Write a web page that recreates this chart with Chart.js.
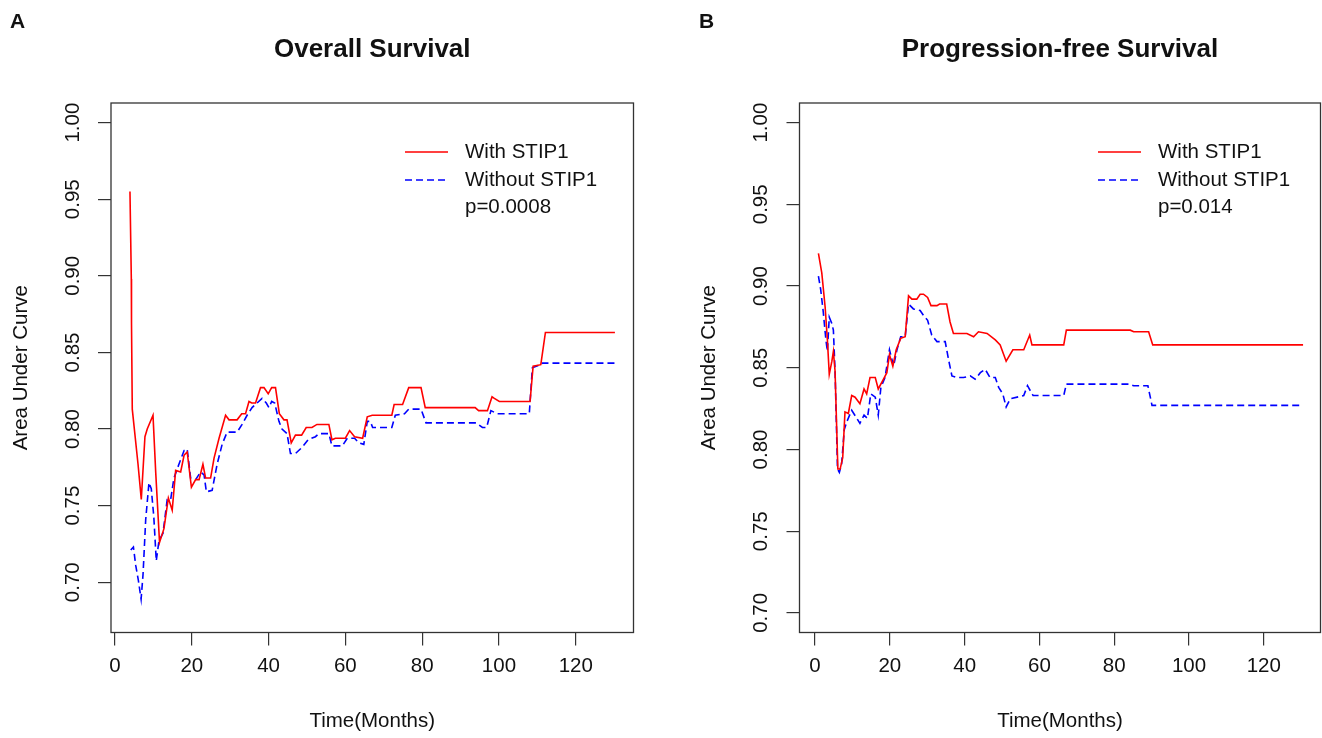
<!DOCTYPE html>
<html>
<head>
<meta charset="utf-8">
<title>AUC with / without STIP1</title>
<script src="https://cdn.jsdelivr.net/npm/chart.js@4.4.1/dist/chart.umd.min.js"></script>
<style>
  body { margin: 0; background: #fff; }
  .panel { position: absolute; top: 0; width: 661px; height: 738px; }
  #panelA { left: 0; }
  #panelB { left: 661px; }
</style>
</head>
<body>
<div class="panel" id="panelA"><canvas id="chartA" width="661" height="738"></canvas></div>
<div class="panel" id="panelB"><canvas id="chartB" width="661" height="738"></canvas></div>
<script>
// Tick values (same for both panels)
const xTicks = [0, 20, 40, 60, 80, 100, 120];
const yTicks = [0.70, 0.75, 0.80, 0.85, 0.90, 0.95, 1.00];

// Overall survival - with STIP1 (red, solid)
const osWithX = [3.9, 4.25, 4.3, 4.5, 6.0, 6.85, 7.8, 8.4, 9.9, 10.6, 11.6, 12.75, 13.9, 14.9, 15.8, 17.1, 18.0, 18.8, 19.9, 21.0,
  21.9, 22.9, 23.6, 24.9, 25.8, 27.1, 28.8, 29.7, 31.8, 33.0, 34.0, 34.9, 35.6, 36.6, 37.9, 38.8, 39.9, 40.8, 41.8, 42.8,
  44.0, 44.8, 45.9, 47.0, 48.6, 49.8, 51.3, 52.6, 55.7, 56.5, 57.4, 60.0, 61.1, 62.4, 64.5, 65.7, 67.0, 68.0, 72.1, 72.7,
  74.9, 76.5, 79.7, 80.8, 93.8, 94.7, 97.0, 98.2, 98.8, 100.1, 108.1, 108.9, 110.9, 112.1, 130.2];
const osWithY = [0.955, 0.898, 0.869, 0.813, 0.777, 0.754, 0.795, 0.800, 0.809, 0.772, 0.726, 0.735, 0.755, 0.747, 0.773, 0.772, 0.783, 0.785, 0.762, 0.767,
  0.767, 0.777, 0.768, 0.768, 0.781, 0.794, 0.809, 0.806, 0.806, 0.810, 0.810, 0.818, 0.817, 0.817, 0.827, 0.827, 0.823, 0.827, 0.827, 0.810,
  0.806, 0.806, 0.791, 0.796, 0.796, 0.801, 0.801, 0.803, 0.803, 0.793, 0.794, 0.794, 0.799, 0.795, 0.794, 0.808, 0.809, 0.809, 0.809, 0.816,
  0.816, 0.827, 0.827, 0.814, 0.814, 0.812, 0.812, 0.821, 0.820, 0.818, 0.818, 0.841, 0.842, 0.863, 0.863];

// Overall survival - without STIP1 (blue, dashed)
const osWithoutX = [4.1, 4.8, 5.4, 6.1, 6.8, 7.3, 8.0, 8.85, 9.45, 10.1, 10.75, 11.45, 12.5, 13.6, 14.5, 15.35, 16.65, 18.0, 18.8, 19.7,
  21.0, 22.3, 23.2, 23.8, 25.3, 26.6, 27.9, 29.2, 30.5, 31.8, 33.1, 34.4, 35.7, 37.0, 38.3, 39.4, 40.1, 40.8, 41.6, 42.7,
  43.5, 44.8, 45.7, 47.0, 48.7, 50.3, 52.2, 53.1, 55.7, 56.5, 59.2, 60.5, 62.4, 63.5, 64.8, 65.7, 66.5, 67.1, 72.1, 73.0,
  75.4, 76.5, 79.7, 81.0, 94.0, 95.7, 96.8, 97.9, 99.6, 107.9, 108.7, 110.9, 111.3, 130.2];
const osWithoutY = [0.721, 0.723, 0.711, 0.701, 0.689, 0.705, 0.741, 0.765, 0.761, 0.743, 0.714, 0.727, 0.732, 0.754, 0.754, 0.768, 0.777, 0.786, 0.787, 0.768,
  0.767, 0.772, 0.770, 0.759, 0.760, 0.777, 0.790, 0.798, 0.798, 0.798, 0.803, 0.809, 0.814, 0.817, 0.820, 0.817, 0.814, 0.818, 0.817, 0.805,
  0.800, 0.797, 0.784, 0.784, 0.788, 0.793, 0.795, 0.797, 0.797, 0.789, 0.789, 0.794, 0.794, 0.791, 0.790, 0.805, 0.805, 0.801, 0.801, 0.809,
  0.810, 0.813, 0.813, 0.804, 0.804, 0.801, 0.801, 0.812, 0.810, 0.810, 0.840, 0.842, 0.843, 0.843];

// Progression-free survival - with STIP1
const pfsWithX = [0.9, 1.8, 2.7, 3.3, 3.8, 4.5, 4.9, 5.35, 5.8, 6.1, 6.7, 7.4, 8.0, 8.9, 9.8, 10.7, 12.0, 13.1, 13.8, 14.7,
  16.1, 16.9, 18.3, 19.2, 19.9, 20.8, 21.7, 22.9, 24.1, 25.0, 25.9, 27.2, 28.1, 29.0, 30.1, 31.0, 32.6, 33.3, 35.2, 36.1,
  37.0, 40.6, 42.4, 43.7, 46.0, 48.2, 49.5, 51.1, 52.9, 55.8, 57.4, 58.0, 66.5, 67.2, 84.3, 85.2, 89.2, 90.3, 130.5];
const pfsWithY = [0.920, 0.908, 0.887, 0.867, 0.846, 0.854, 0.860, 0.848, 0.812, 0.788, 0.788, 0.795, 0.823, 0.822, 0.833, 0.832, 0.828, 0.837, 0.834, 0.844,
  0.844, 0.837, 0.843, 0.847, 0.858, 0.851, 0.861, 0.868, 0.869, 0.894, 0.892, 0.892, 0.895, 0.895, 0.893, 0.888, 0.888, 0.889, 0.889, 0.878,
  0.871, 0.871, 0.869, 0.872, 0.871, 0.867, 0.864, 0.854, 0.861, 0.861, 0.870, 0.864, 0.864, 0.873, 0.873, 0.872, 0.872, 0.864, 0.864];

// Progression-free survival - without STIP1
const pfsWithoutX = [0.9, 1.5, 2.2, 2.9, 3.3, 3.8, 4.5, 4.9, 5.35, 6.0, 6.5, 7.1, 7.8, 8.5, 9.8, 10.9, 12.0, 13.1, 14.0, 14.9,
  16.1, 16.9, 17.6, 18.7, 19.9, 21.0, 21.9, 22.9, 24.1, 25.0, 26.3, 28.1, 29.0, 30.1, 31.2, 32.6, 34.8, 35.7, 36.6, 37.9,
  39.7, 41.5, 42.8, 44.2, 45.5, 46.8, 48.2, 49.1, 50.2, 51.1, 52.2, 55.8, 56.8, 58.3, 66.5, 67.2, 84.1, 85.2, 89.0, 90.1, 130.5];
const pfsWithoutY = [0.906, 0.898, 0.884, 0.867, 0.860, 0.881, 0.877, 0.873, 0.848, 0.788, 0.786, 0.791, 0.812, 0.817, 0.824, 0.820, 0.816, 0.821, 0.819, 0.834,
  0.832, 0.821, 0.838, 0.844, 0.861, 0.851, 0.861, 0.869, 0.869, 0.889, 0.886, 0.885, 0.882, 0.879, 0.870, 0.866, 0.866, 0.855, 0.845, 0.844,
  0.844, 0.845, 0.843, 0.847, 0.849, 0.844, 0.844, 0.838, 0.834, 0.826, 0.831, 0.833, 0.839, 0.833, 0.833, 0.840, 0.840, 0.839, 0.839, 0.827, 0.827];

const FONT = '"Liberation Sans", Arial, sans-serif';
const TEXT = '#111';
const RED = '#ff0000';
const BLUE = '#0000ff';

function toPoints(xs, ys) {
    return xs.map((x, i) => ({ x: x, y: ys[i] }));
}

// Draws the R-style box, tick labels, titles and legend
const decorations = {
    id: 'decorations',
    afterDraw(chart, args, opts) {
        const ctx = chart.ctx;
        const a = chart.chartArea;
        const x = chart.scales.x;
        const y = chart.scales.y;
        ctx.save();

        // plot box
        ctx.strokeStyle = '#333';
        ctx.lineWidth = 1.3;
        ctx.strokeRect(a.left, a.top, a.right - a.left, a.bottom - a.top);

        ctx.fillStyle = TEXT;
        ctx.font = '20.5px ' + FONT;
        ctx.textAlign = 'center';
        ctx.textBaseline = 'middle';

        // x tick labels
        xTicks.forEach(v => ctx.fillText(String(v), x.getPixelForValue(v), a.bottom + 34));

        // y tick labels, rotated like R's default las=0
        yTicks.forEach(v => {
            ctx.save();
            ctx.translate(a.left - 38, y.getPixelForValue(v));
            ctx.rotate(-Math.PI / 2);
            ctx.fillText(v.toFixed(2), 0, 0);
            ctx.restore();
        });

        // axis titles
        const midX = (a.left + a.right) / 2;
        const midY = (a.top + a.bottom) / 2;
        ctx.fillText('Time(Months)', midX, a.bottom + 89);
        ctx.save();
        ctx.translate(a.left - 90, midY);
        ctx.rotate(-Math.PI / 2);
        ctx.fillText('Area Under Curve', 0, 0);
        ctx.restore();

        // main title + panel letter
        ctx.font = 'bold 26px ' + FONT;
        ctx.fillText(opts.title, midX, 50);
        ctx.font = 'bold 21px ' + FONT;
        ctx.textAlign = 'left';
        ctx.fillText(opts.letter, opts.letterX, 22);

        // legend
        const lx = opts.legendX;
        const rows = [152, 180, 207];
        ctx.lineWidth = 1.6;
        ctx.strokeStyle = RED;
        ctx.beginPath();
        ctx.moveTo(lx, rows[0]);
        ctx.lineTo(lx + 43, rows[0]);
        ctx.stroke();
        ctx.strokeStyle = BLUE;
        ctx.setLineDash([7, 4]);
        ctx.beginPath();
        ctx.moveTo(lx, rows[1]);
        ctx.lineTo(lx + 43, rows[1]);
        ctx.stroke();
        ctx.setLineDash([]);

        ctx.font = '20.5px ' + FONT;
        ctx.fillStyle = TEXT;
        ctx.fillText('With STIP1', lx + 60, rows[0]);
        ctx.fillText('Without STIP1', lx + 60, rows[1]);
        ctx.fillText(opts.pValue, lx + 60, rows[2]);

        ctx.restore();
    }
};

function makeChart(canvasId, cfg) {
    const ctx = document.getElementById(canvasId);
    return new Chart(ctx, {
        type: 'line',
        data: {
            datasets: [
                {
                    label: 'With STIP1',
                    data: toPoints(cfg.withX, cfg.withY),
                    borderColor: RED,
                    borderWidth: 1.6,
                    pointRadius: 0,
                    tension: 0
                },
                {
                    label: 'Without STIP1',
                    data: toPoints(cfg.withoutX, cfg.withoutY),
                    borderColor: BLUE,
                    borderWidth: 1.6,
                    borderDash: [7, 4],
                    pointRadius: 0,
                    tension: 0
                }
            ]
        },
        options: {
            responsive: false,
            animation: false,
            events: [],
            layout: {
                padding: { left: 0, right: cfg.padRight, top: 103, bottom: 0 }
            },
            plugins: {
                legend: { display: false },
                tooltip: { enabled: false },
                decorations: {
                    title: cfg.title,
                    letter: cfg.letter,
                    letterX: cfg.letterX,
                    legendX: cfg.legendX,
                    pValue: cfg.pValue
                }
            },
            scales: {
                x: {
                    type: 'linear',
                    min: cfg.xMin,
                    max: cfg.xMax,
                    afterBuildTicks: s => { s.ticks = xTicks.map(v => ({ value: v })); },
                    afterFit: s => { s.height = 738 - 632.5; },
                    ticks: { display: false },
                    border: { display: false },
                    grid: { drawOnChartArea: false, drawTicks: true, tickLength: 13, color: '#333', lineWidth: 1.2 }
                },
                y: {
                    type: 'linear',
                    min: cfg.yMin,
                    max: cfg.yMax,
                    afterBuildTicks: s => { s.ticks = yTicks.map(v => ({ value: v })); },
                    afterFit: s => { s.width = cfg.axisWidth; },
                    ticks: { display: false },
                    border: { display: false },
                    grid: { drawOnChartArea: false, drawTicks: true, tickLength: 13, color: '#333', lineWidth: 1.2 }
                }
            }
        },
        plugins: [decorations]
    });
}

makeChart('chartA', {
    withX: osWithX, withY: osWithY, withoutX: osWithoutX, withoutY: osWithoutY,
    xMin: -1.04, xMax: 135.04, yMin: 0.6672, yMax: 1.0128,
    axisWidth: 111, padRight: 27.5,
    title: 'Overall Survival', letter: 'A', letterX: 10, legendX: 405, pValue: 'p=0.0008'
});

makeChart('chartB', {
    withX: pfsWithX, withY: pfsWithY, withoutX: pfsWithoutX, withoutY: pfsWithoutY,
    xMin: -4.16, xMax: 135.16, yMin: 0.688, yMax: 1.012,
    axisWidth: 138.5, padRight: 1.5,
    title: 'Progression-free Survival', letter: 'B', letterX: 38, legendX: 437, pValue: 'p=0.014'
});
</script>
</body>
</html>
